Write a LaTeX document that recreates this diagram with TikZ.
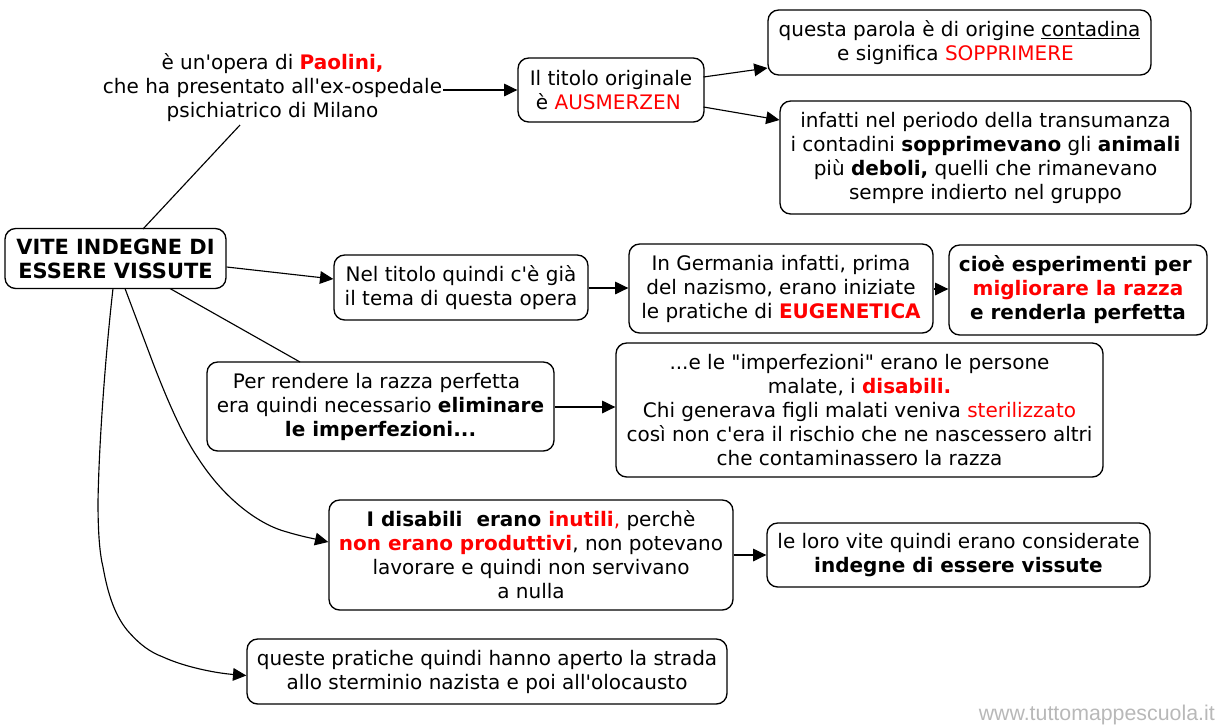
\documentclass[tikz,border=0pt]{standalone}
\usepackage{fontspec}
\setmainfont{DejaVu Sans}[Ligatures=TeXOff]
\newfontfamily\sitefont{Liberation Sans}
\usepackage{xcolor}
\usetikzlibrary{arrows.meta}
\newcommand{\rosso}[1]{\textcolor{red}{#1}}
\tikzset{
    box/.style={draw, line width=1pt, rounded corners=8pt, align=center, inner sep=0pt, font=\fontsize{15}{18}\selectfont},
    free/.style={align=center, inner sep=0pt, font=\fontsize{15}{18}\selectfont},
    site/.style={anchor=east, inner sep=0pt, text=black!28, font=\sitefont\fontsize{16}{18}\selectfont},
    link/.style={line width=0.85pt},
    arrow/.style={line width=0.85pt, -{Triangle[length=10pt,width=9.5pt]}}
}
\begin{document}
\begin{tikzpicture}[x=0.75pt, y=-0.75pt]
    \useasboundingbox (0, 0) rectangle (1218, 726);
    \node[box, minimum width=165.75pt, minimum height=45pt, font=\fontsize{15.7}{18}\selectfont] (title) at (115.5, 258.5) {\textbf{VITE INDEGNE DI}\\\textbf{ESSERE VISSUTE}};
    \node[free] (opera) at (272.5, 88) {è un'opera di \textbf{\rosso{Paolini,}}\\che ha presentato all'ex-ospedale\\psichiatrico di Milano};
    \node[box, minimum width=139.5pt, minimum height=48pt] (originale) at (611, 90) {Il titolo originale\\è \rosso{AUSMERZEN}\kern4pt};
    \node[box, minimum width=287.25pt, minimum height=48.75pt] (parola) at (959.5, 42.5) {questa parola è di origine \underline{contadina}\\e significa \rosso{SOPPRIMERE}\kern6pt};
    \node[box, minimum width=308.25pt, minimum height=84.75pt] (transumanza) at (985.5, 157.5) {infatti nel periodo della transumanza\\i contadini \textbf{sopprimevano} gli \textbf{animali}\\più \textbf{deboli,} quelli che rimanevano\\sempre indierto nel gruppo};
    \node[box, minimum width=190.5pt, minimum height=48.75pt] (tema) at (461, 287.5) {Nel titolo quindi c'è già\\il tema di questa opera};
    \node[box, minimum width=228pt, minimum height=66.75pt] (germania) at (781, 288.5) {In Germania infatti, prima\\del nazismo, erano iniziate\\le pratiche di \textbf{\rosso{EUGENETICA}}};
    \node[box, minimum width=193.5pt, minimum height=67.5pt] (esperimenti) at (1078, 290) {\textbf{cioè esperimenti per}\kern4pt\\\textbf{\rosso{migliorare la razza}}\\\textbf{e renderla perfetta}};
    \node[box, minimum width=260.25pt, minimum height=66.75pt] (perfetta) at (380.5, 406.5) {Per rendere la razza perfetta\kern6pt\\era quindi necessario \textbf{eliminare}\\\textbf{le imperfezioni...}};
    \node[box, minimum width=365.25pt, minimum height=100.5pt] (malate) at (859.5, 410) {...e le "imperfezioni" erano le persone\\malate, i \textbf{\rosso{disabili.}}\\Chi generava figli malati veniva \rosso{sterilizzato}\\così non c'era il rischio che ne nascessero altri\\che contaminassero la razza};
    \node[box, minimum width=303pt, minimum height=82.5pt] (disabili) at (531, 555) {\textbf{I disabili\ \ erano \rosso{inutili}}\rosso{,} perchè\\\textbf{\rosso{non erano produttivi}}, non potevano\\lavorare e quindi non servivano\\a nulla};
    \node[box, minimum width=287.25pt, minimum height=48pt] (indegne) at (958.5, 555) {le loro vite quindi erano considerate\\\textbf{indegne di essere vissute}};
    \node[box, minimum width=360pt, minimum height=48.75pt] (sterminio) at (487, 671.5) {queste pratiche quindi hanno aperto la strada\\allo sterminio nazista e poi all'olocausto};
    \node[site] (sito) at (1215, 715) {www.tuttomappescuola.it};
    % collegamenti
    \coordinate (operafoot) at (240, 125);
    \coordinate (operaright) at (443, 90);
    \draw[link] (143, 229) -- (operafoot);
    \draw[arrow] (operaright) -- (originale.west);
    \draw[arrow] (703.5, 77) -- (767.5, 68);
    \draw[arrow] (703.5, 107) -- (779.5, 120);
    \draw[arrow] (title.east |- 0, 267) -- (tema.west |- 0, 279);
    \draw[arrow] (tema.east |- 0, 288) -- (germania.west |- 0, 288);
    \draw[arrow] (germania.east |- 0, 289) -- (esperimenti.west |- 0, 289);
    \draw[link] (170, 288.5) -- (300, 362);
    \draw[arrow] (perfetta.east |- 0, 407) -- (malate.west |- 0, 407);
    \draw[arrow] (125, 288.5) -- (153, 363) .. controls (168, 402) and (183, 436) .. (198, 458) .. controls (225, 500) and (260, 525) .. (287, 532) .. controls (300, 536) and (315, 539) .. (disabili.west |- 0, 542);
    \draw[arrow] (disabili.east) -- (indegne.west);
    \draw[arrow] (113, 288.5) .. controls (106, 350) and (99, 440) .. (98, 502) .. controls (98, 535) and (100, 555) .. (103, 567) .. controls (108, 595) and (115, 615) .. (127, 630) .. controls (140, 645) and (150, 652) .. (163, 657) .. controls (185, 667) and (215, 673) .. (sterminio.west |- 0, 675.5);
\end{tikzpicture}
\end{document}
